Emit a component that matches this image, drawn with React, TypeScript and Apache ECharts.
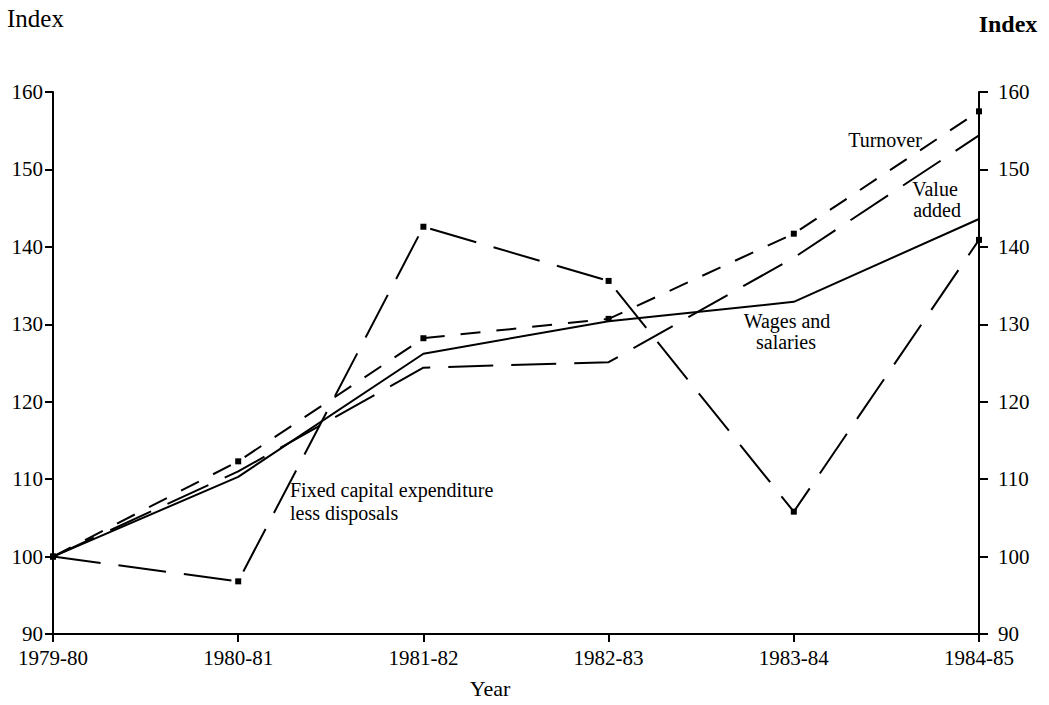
import React, { useEffect, useRef } from "react";
import * as echarts from "echarts";

const years = ["1979-80", "1980-81", "1981-82", "1982-83", "1983-84", "1984-85"];
const turnover = [100, 112.3, 128.2, 130.7, 141.7, 157.5];
const valueAdded = [100, 111.0, 124.4, 125.1, 138.6, 154.4];
const wagesSalaries = [100, 110.3, 126.2, 130.4, 132.9, 143.6];
const fixedCapital = [100, 96.8, 142.6, 135.6, 105.8, 140.9];
const yMin = 90;
const yMax = 160;
const yStep = 10;

const FONT = "'Liberation Serif', 'DejaVu Serif', serif";

export default function App() {
  const ref = useRef<HTMLDivElement>(null);
  useEffect(() => {
    if (!ref.current) return;
    const chart = echarts.init(ref.current, undefined, { renderer: "svg" });
    const axisCommon = {
      type: "value" as const,
      min: yMin,
      max: yMax,
      interval: yStep,
      splitLine: { show: false },
      axisLine: { show: true, lineStyle: { color: "#000", width: 2 } },
    };
    const txt = (text: string, x: number, y: number, size: number, align = "center", weight = "normal") => ({
      type: "text",
      x,
      y,
      silent: true,
      style: {
        text,
        fill: "#000",
        font: `${weight} ${size}px ${FONT}`,
        textAlign: align,
        textVerticalAlign: "middle",
      },
    });
    chart.setOption({
      animation: false,
      backgroundColor: "#fff",
      grid: { left: 53, right: 70, top: 92, bottom: 71, containLabel: false },
      xAxis: {
        type: "category",
        data: years,
        boundaryGap: false,
        axisLine: { lineStyle: { color: "#000", width: 2 } },
        axisTick: { show: true, length: 8, lineStyle: { color: "#000", width: 2 } },
        axisLabel: { color: "#000", fontFamily: FONT, fontSize: 21, margin: 13 },
      },
      yAxis: [
        {
          ...axisCommon,
          position: "left",
          axisTick: { show: true, length: 8, lineStyle: { color: "#000", width: 2 } },
          axisLabel: { color: "#000", fontFamily: FONT, fontSize: 21, margin: 10 },
        },
        {
          ...axisCommon,
          position: "right",
          axisTick: { show: true, length: 9, lineStyle: { color: "#000", width: 2 } },
          axisLabel: { color: "#000", fontFamily: FONT, fontSize: 21, margin: 19 },
        },
      ],
      series: [
        {
          name: "Turnover",
          type: "line",
          data: turnover,
          yAxisIndex: 0,
          symbol: "rect",
          symbolSize: 6,
          itemStyle: { color: "#000" },
          lineStyle: { color: "#000", width: 2, type: [20, 16] },
        },
        {
          name: "Value added",
          type: "line",
          data: valueAdded,
          yAxisIndex: 0,
          symbol: "none",
          lineStyle: { color: "#000", width: 2, type: [45, 18] },
        },
        {
          name: "Wages and salaries",
          type: "line",
          data: wagesSalaries,
          yAxisIndex: 0,
          symbol: "none",
          lineStyle: { color: "#000", width: 2, type: "solid" },
        },
        {
          name: "Fixed capital expenditure less disposals",
          type: "line",
          data: fixedCapital,
          yAxisIndex: 0,
          symbol: "rect",
          symbolSize: 6,
          itemStyle: { color: "#000" },
          lineStyle: { color: "#000", width: 2, type: [48, 18] },
        },
      ],
      graphic: [
        txt("Index", 7, 18, 25, "left"),
        txt("Index", 1008, 24, 24, "center", "bold"),
        txt("Turnover", 885, 140, 20),
        txt("Value", 935, 189, 20),
        txt("added", 937, 210, 20),
        txt("Wages and", 787, 321, 20),
        txt("salaries", 786, 342, 20),
        txt("Fixed capital expenditure", 290, 490, 20, "left"),
        txt("less disposals", 290, 513, 20, "left"),
        txt("Year", 490, 688, 22),
      ],
    });
    return () => chart.dispose();
  }, []);
  return (
    <div
      ref={ref}
      style={{ position: "fixed", left: 0, top: 0, width: 1049, height: 705, background: "#fff" }}
    />
  );
}
